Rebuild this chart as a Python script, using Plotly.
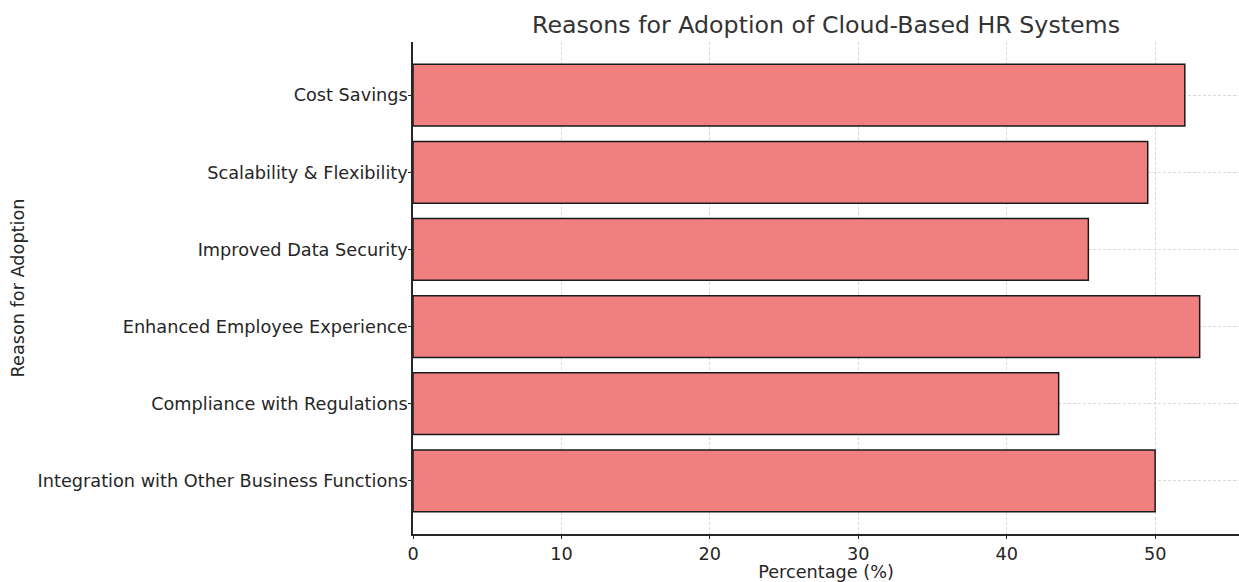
import plotly.graph_objects as go

categories = [
    "Integration with Other Business Functions",
    "Compliance with Regulations",
    "Enhanced Employee Experience",
    "Improved Data Security",
    "Scalability & Flexibility",
    "Cost Savings",
]
percentages = [50.0, 43.5, 53.0, 45.5, 49.5, 52.0]
x_ticks = [0, 10, 20, 30, 40, 50]

fig = go.Figure()
fig.add_trace(go.Bar(
    y=categories,
    x=percentages,
    orientation="h",
    width=0.8,
    marker=dict(color="#F08080", line=dict(color="#1a1a1a", width=1.5)),
    hoverinfo="x+y",
))

W, H = 1239, 582
font_family = "DejaVu Sans, Verdana, sans-serif"
fig.update_layout(
    width=W,
    height=H,
    margin=dict(l=413, r=0, t=42, b=H - 534, autoexpand=False),
    paper_bgcolor="white",
    plot_bgcolor="white",
    showlegend=False,
    font=dict(family=font_family, size=17.7, color="#262626"),
    title=dict(
        text="Reasons for Adoption of Cloud-Based HR Systems",
        x=826 / W,
        xanchor="center",
        y=1 - 25 / H,
        yanchor="middle",
        font=dict(size=23.7, color="#333333"),
    ),
    bargap=0.2,
)
fig.update_xaxes(
    range=[0, 55.65],
    tickvals=x_ticks,
    ticks="outside",
    ticklen=3,
    tickcolor="#262626",
    showline=True,
    linecolor="#262626",
    linewidth=1.5,
    showgrid=True,
    gridcolor="#d8d8d8",
    griddash="3px,2px",
    gridwidth=1,
    zeroline=False,
    automargin=False,
    title=dict(text="Percentage (%)", standoff=5, font=dict(size=17.7)),
    tickfont=dict(size=17.7),
)
fig.update_yaxes(
    type="category",
    categoryorder="array",
    categoryarray=categories,
    range=[-0.69, 5.69],
    ticks="outside",
    ticklen=3,
    tickcolor="#262626",
    showline=True,
    linecolor="#262626",
    linewidth=1.5,
    showgrid=True,
    gridcolor="#d8d8d8",
    griddash="3px,2px",
    gridwidth=1,
    automargin=False,
    ticklabelstandoff=-3,
    title=dict(text="Reason for Adoption", standoff=8, font=dict(size=17.7)),
    tickfont=dict(size=17.7),
)

fig.write_html(
    "out.html",
    config={"displayModeBar": False},
    post_script="document.body.style.margin='0';document.body.style.overflow='hidden';",
)
